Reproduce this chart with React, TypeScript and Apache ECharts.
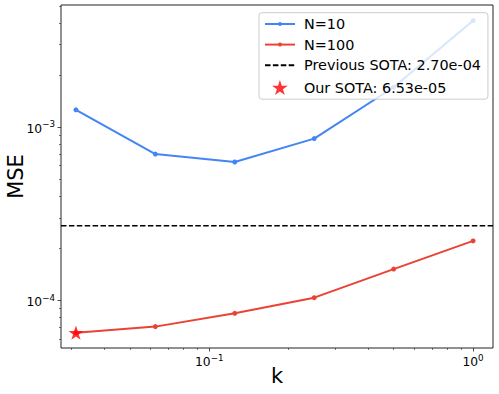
import React, { useEffect, useRef } from "react";
import * as echarts from "echarts";

// ---- data ----
const kValues = [1 / 32, 1 / 16, 1 / 8, 1 / 4, 1 / 2, 1];
const mseN10 = [1.26e-3, 7.0e-4, 6.3e-4, 8.6e-4, 1.7e-3, 4.12e-3];
const mseN100 = [6.53e-5, 7.08e-5, 8.45e-5, 1.04e-4, 1.52e-4, 2.21e-4];
const previousSota = 2.7e-4;
const ourSota = 6.53e-5;
const ourSotaK = 1 / 32;
const xMin = 0.02743;
const xMax = 1.19;
const yMin = 5.33e-5;
const yMax = 5.07e-3;
const xMajorTicks = [0.1, 1];
const xMinorTicks = [0.03, 0.04, 0.05, 0.06, 0.07, 0.08, 0.09, 0.2, 0.3, 0.4, 0.5, 0.6, 0.7, 0.8, 0.9];
const yMajorTicks = [1e-4, 1e-3];
const yMinorTicks = [6e-5, 7e-5, 8e-5, 9e-5, 2e-4, 3e-4, 4e-4, 5e-4, 6e-4, 7e-4, 8e-4, 9e-4, 2e-3, 3e-3, 4e-3, 5e-3];

const nameN10 = "N=10";
const nameN100 = "N=100";
const namePrev = "Previous SOTA: 2.70e-04";
const nameOur = "Our SOTA: 6.53e-05";

const FONT = "DejaVu Sans";
const BLUE = "#4285F4";
const RED = "#EA4335";
const STAR =
  "path://M0,-1L0.2245,-0.309L0.951,-0.309L0.363,0.118L0.588,0.809L0,0.382L-0.588,0.809L-0.363,0.118L-0.951,-0.309L-0.2245,-0.309Z";

const powLabel = (v: number) => {
  const e = Math.round(Math.log10(v));
  const s = e < 0 ? "\u2212" + Math.abs(e) : String(e);
  return "{b|10}{s|" + s + "}";
};

const richLabel = {
  b: { fontSize: 12.3, fontFamily: FONT, color: "#000", verticalAlign: "bottom" },
  s: { fontSize: 8.7, fontFamily: FONT, color: "#000", verticalAlign: "bottom", padding: [0, 0, 6, 0] },
};

export default function App() {
  const ref = useRef<HTMLDivElement>(null);
  useEffect(() => {
    if (!ref.current) return;
    const chart = echarts.init(ref.current, undefined, { renderer: "svg" });
    const pairs = (ys: number[]) => kValues.map((k, i) => [k, ys[i]]);
    chart.setOption({
      animation: false,
      backgroundColor: "#fff",
      textStyle: { fontFamily: FONT },
      grid: {
        left: 61,
        right: 6,
        top: 5,
        bottom: 46,
        containLabel: false,
        outerBoundsMode: "none",
        show: true,
        borderColor: "#222",
        borderWidth: 1,
        backgroundColor: "transparent",
      },
      xAxis: [
        {
          type: "log",
          logBase: 10,
          min: xMin,
          max: xMax,
          position: "bottom",
          name: "k",
          nameLocation: "middle",
          nameGap: 17,
          nameMoveOverlap: false,
          nameTextStyle: { fontSize: 21, fontFamily: FONT, color: "#000", verticalAlign: "top" },
          axisLine: { show: false },
          axisTick: { show: true, customValues: xMajorTicks, length: 3.5, lineStyle: { color: "#222", width: 0.8 } },
          axisLabel: {
            show: true,
            customValues: xMajorTicks,
            margin: 5,
            formatter: powLabel,
            rich: richLabel,
          },
          splitLine: { show: false },
          minorTick: { show: false },
        },
        {
          type: "log",
          logBase: 10,
          min: xMin,
          max: xMax,
          position: "bottom",
          axisLine: { show: false },
          axisTick: { show: true, customValues: xMinorTicks, length: 2, lineStyle: { color: "#222", width: 0.6 } },
          axisLabel: { show: false },
          splitLine: { show: false },
        },
      ],
      yAxis: [
        {
          type: "log",
          logBase: 10,
          min: yMin,
          max: yMax,
          position: "left",
          name: "MSE",
          nameLocation: "middle",
          nameGap: 35,
          nameMoveOverlap: false,
          nameTextStyle: { fontSize: 21, fontFamily: FONT, color: "#000" },
          axisLine: { show: false },
          axisTick: { show: true, customValues: yMajorTicks, length: 3.5, lineStyle: { color: "#222", width: 0.8 } },
          axisLabel: {
            show: true,
            customValues: yMajorTicks,
            margin: 6,
            formatter: powLabel,
            rich: richLabel,
          },
          splitLine: { show: false },
        },
        {
          type: "log",
          logBase: 10,
          min: yMin,
          max: yMax,
          position: "left",
          axisLine: { show: false },
          axisTick: { show: true, customValues: yMinorTicks, length: 2, lineStyle: { color: "#222", width: 0.6 } },
          axisLabel: { show: false },
          splitLine: { show: false },
        },
      ],
      legend: [
        {
          data: [nameN10, nameN100, { name: namePrev, itemStyle: { opacity: 0 } }],
          orient: "vertical",
          left: 259,
          top: 12.7,
          itemWidth: 30,
          itemHeight: 5,
          itemGap: 6.6,
          selectedMode: false,
          textStyle: { fontSize: 14.4, fontFamily: FONT, color: "#000", padding: [0, 0, 0, 4] },
          backgroundColor: "rgba(255,255,255,0.8)",
          borderColor: "#cccccc",
          borderWidth: 1,
          borderRadius: 3,
          padding: [4.3, 7, 27, 5],
          z: 10,
        },
        {
          data: [nameOur],
          orient: "vertical",
          left: 272,
          top: 80.1,
          itemWidth: 30,
          itemHeight: 15,
          selectedMode: false,
          textStyle: { fontSize: 14.4, fontFamily: FONT, color: "#000", padding: [0, 0, 0, 4] },
          padding: 0,
          z: 11,
        },
      ],
      series: [
        {
          name: nameN10,
          type: "line",
          xAxisIndex: 0,
          yAxisIndex: 0,
          data: pairs(mseN10),
          symbol: "circle",
          symbolSize: 5,
          color: BLUE,
          itemStyle: { color: BLUE },
          lineStyle: { color: BLUE, width: 2 },
          z: 2,
        },
        {
          name: nameN100,
          type: "line",
          xAxisIndex: 0,
          yAxisIndex: 0,
          data: pairs(mseN100),
          symbol: "circle",
          symbolSize: 5,
          color: RED,
          itemStyle: { color: RED },
          lineStyle: { color: RED, width: 2 },
          z: 2,
        },
        {
          name: namePrev,
          type: "line",
          xAxisIndex: 0,
          yAxisIndex: 0,
          data: [
            [xMin, previousSota],
            [xMax, previousSota],
          ],
          symbol: "none",
          color: "#000",
          itemStyle: { color: "#000" },
          lineStyle: { color: "#000", width: 1.5, type: [5.5, 2.4] },
          z: 1,
        },
        {
          name: nameOur,
          type: "scatter",
          xAxisIndex: 0,
          yAxisIndex: 0,
          data: [[ourSotaK, ourSota]],
          symbol: STAR,
          symbolKeepAspect: true,
          symbolSize: 15,
          color: "#ff0000",
          itemStyle: { color: "#ff0000" },
          z: 5,
        },
      ],
    });
    return () => chart.dispose();
  }, []);
  return (
    <div
      ref={ref}
      style={{ position: "fixed", left: 0, top: 0, width: 499, height: 394, background: "#fff" }}
    />
  );
}
